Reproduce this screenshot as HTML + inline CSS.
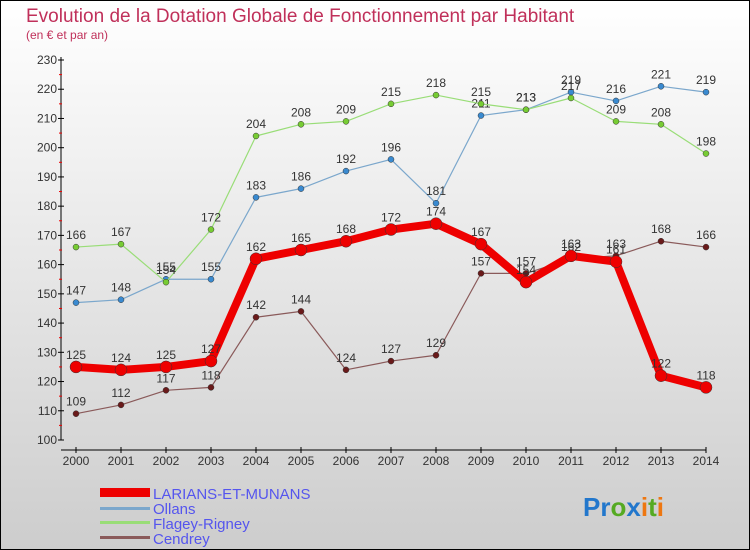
<!DOCTYPE html>
<html><head><meta charset="utf-8"><style>
body{margin:0;}
svg{display:block;font-family:"Liberation Sans",sans-serif;}
</style></head><body>
<svg id="c" width="750" height="550" viewBox="0 0 750 550">
<defs><linearGradient id="bg" x1="0" y1="0" x2="0" y2="1"><stop offset="0" stop-color="#ffffff"/><stop offset="1" stop-color="#cdcdcd"/></linearGradient></defs>
<rect x="0.5" y="0.5" width="749" height="549" fill="url(#bg)" stroke="#000"/>
<text x="26" y="22" font-size="19" fill="#c0305a">Evolution de la Dotation Globale de Fonctionnement par Habitant</text>
<text x="26" y="39" font-size="12" fill="#c0305a">(en € et par an)</text>
<g id="axes"></g><g id="series"></g>
<g>
<rect x="100" y="488" width="50" height="9" fill="#ee0000"/>
<text x="153" y="499" font-size="15" fill="#5555ee">LARIANS-ET-MUNANS</text>
<rect x="100" y="507" width="50" height="3" fill="#7ba7cc"/>
<text x="153" y="514" font-size="15" fill="#5555ee">Ollans</text>
<rect x="100" y="521" width="50" height="3" fill="#99dd77"/>
<text x="153" y="529" font-size="15" fill="#5555ee">Flagey-Rigney</text>
<rect x="100" y="536" width="50" height="3" fill="#8a5a5a"/>
<text x="153" y="544" font-size="15" fill="#5555ee">Cendrey</text>
</g>
<text x="583" y="516" font-size="26" font-weight="bold"><tspan fill="#2277cc">Pr</tspan><tspan fill="#55aa22">o</tspan><tspan fill="#2277cc">x</tspan><tspan fill="#ee7711">i</tspan><tspan fill="#55aa22">t</tspan><tspan fill="#ee7711">i</tspan></text>
</svg>
<script>
const years=[2000,2001,2002,2003,2004,2005,2006,2007,2008,2009,2010,2011,2012,2013,2014];
const yTicks=[100,110,120,130,140,150,160,170,180,190,200,210,220,230];
const larians=[125,124,125,127,162,165,168,172,174,167,154,163,161,122,118];
const ollans=[147,148,155,155,183,186,192,196,181,211,213,219,216,221,219];
const flagey=[166,167,154,172,204,208,209,215,218,215,213,217,209,208,198];
const cendrey=[109,112,117,118,142,144,124,127,129,157,157,162,163,168,166];
const NS="http://www.w3.org/2000/svg";
const xS=i=>76+i*45;
const yS=v=>440-(v-100)*380/130;
function mk(p,t,a){const e=document.createElementNS(NS,t);for(const k in a)e.setAttribute(k,a[k]);p.appendChild(e);return e;}
const ax=document.getElementById('axes');
let e=mk(ax,'line',{x1:61,y1:57,x2:61,y2:440,stroke:'#000'});


e=mk(ax,'line',{x1:61,y1:450,x2:706,y2:450,stroke:'#000'});


yTicks.forEach(v=>{
 mk(ax,'line',{x1:58,y1:yS(v),x2:64,y2:yS(v),stroke:'#000'});
 if(v<230)mk(ax,'line',{x1:59,y1:yS(v+5),x2:62,y2:yS(v+5),stroke:'#e00'});
 const t=mk(ax,'text',{x:57,y:yS(v)+4,'font-size':12,fill:'#333','text-anchor':'end'});t.textContent=v;
 
 
});
years.forEach((y,i)=>{
 mk(ax,'line',{x1:xS(i),y1:447,x2:xS(i),y2:453,stroke:'#000'});
 const t=mk(ax,'text',{x:xS(i),y:465,'font-size':12,fill:'#333','text-anchor':'middle'});t.textContent=y;
 
 
});
const sg=document.getElementById('series');
function draw(arr,name,color,w,r,dot){
 const g=mk(sg,'g',{});
 
 
 mk(g,'polyline',{points:arr.map((v,i)=>xS(i)+','+yS(v)).join(' '),fill:'none',stroke:color,'stroke-width':w,'stroke-linejoin':'round'});
 arr.forEach((v,i)=>{
  const c=mk(g,'circle',{cx:xS(i),cy:yS(v),r:r,fill:dot,stroke:'#333','stroke-width':0.5});
  
  
  const t=mk(g,'text',{x:xS(i),y:yS(v)-8,'font-size':12,fill:'#333','text-anchor':'middle'});t.textContent=v;
  
  
 });
}
draw(ollans,'ollans','#7ba7cc',1.2,3,'#3a8ad0');
draw(flagey,'flagey','#99dd77',1.2,3,'#77cc33');
draw(cendrey,'cendrey','#8a5a5a',1.2,3,'#6a1a1a');
draw(larians,'larians','#ee0000',8,6,'#ee0000');
</script>
</body></html>
